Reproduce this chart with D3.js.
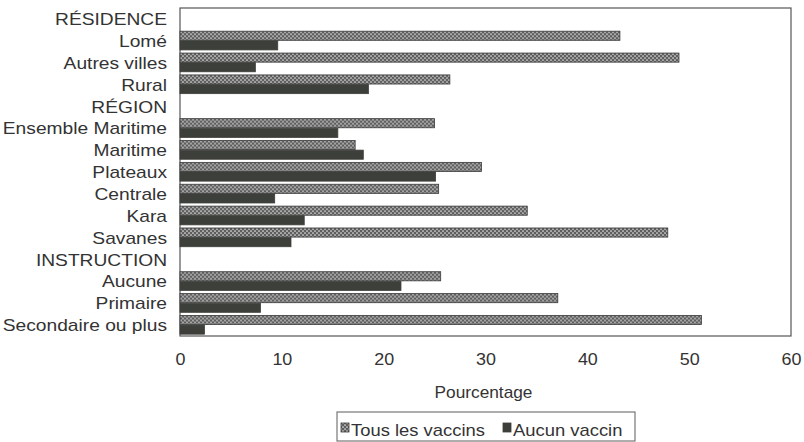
<!DOCTYPE html>
<html>
<head>
<meta charset="utf-8">
<script src="https://cdn.jsdelivr.net/npm/d3@7"></script>
<style>
  html, body { margin: 0; padding: 0; background: #ffffff; }
  svg { display: block; font-family: "Liberation Sans", Arial, Helvetica, sans-serif; }
</style>
</head>
<body>
<svg id="chart" width="804" height="442"></svg>
<script>
const categories = ["RÉSIDENCE", "Lomé", "Autres villes", "Rural", "RÉGION",
  "Ensemble Maritime", "Maritime", "Plateaux", "Centrale", "Kara", "Savanes",
  "INSTRUCTION", "Aucune", "Primaire", "Secondaire ou plus"];
const tousVaccins = [null, 43.2, 49.0, 26.5, null, 25.0, 17.2, 29.6, 25.4, 34.1, 47.9, null, 25.6, 37.1, 51.2];
const aucunVaccin = [null, 9.6, 7.4, 18.5, null, 15.5, 18.0, 25.1, 9.3, 12.2, 10.9, null, 21.7, 7.9, 2.4];
const seriesNames = ["Tous les vaccins", "Aucun vaccin"];
const xTicks = [0, 10, 20, 30, 40, 50, 60];
const xTitle = "Pourcentage";

const svg = d3.select("#chart");
const plot = { left: 180, right: 791, top: 8, bottom: 336 };
const textColor = "#333";
const fontSize = 16;

// pattern for "Tous les vaccins"
const defs = svg.append("defs");
const pat = defs.append("pattern").attr("id", "dots")
  .attr("patternUnits", "userSpaceOnUse").attr("width", 4).attr("height", 4);
pat.append("rect").attr("width", 4).attr("height", 4).attr("fill", "#5e5e5e");
pat.append("circle").attr("cx", 1).attr("cy", 1).attr("r", 0.85).attr("fill", "#e6e6e6");
pat.append("circle").attr("cx", 3).attr("cy", 3).attr("r", 0.85).attr("fill", "#e6e6e6");

const seriesStyle = [
  { fill: "url(#dots)", stroke: "#3a3a3a" },
  { fill: "#3d3f3a", stroke: "#3d3f3a" }
];

const x = d3.scaleLinear().domain([0, 60]).range([plot.left, plot.right]);
const y = d3.scaleBand().domain(categories).range([plot.top, plot.bottom])
  .paddingInner(0.12).paddingOuter(0.06);
const ySub = d3.scaleBand().domain(seriesNames).range([0, y.bandwidth()]).padding(0);

const rows = categories.map((c, i) => ({ cat: c, vals: [tousVaccins[i], aucunVaccin[i]] }));

// plot frame
svg.append("rect")
  .attr("x", plot.left).attr("y", plot.top)
  .attr("width", plot.right - plot.left).attr("height", plot.bottom - plot.top)
  .attr("fill", "#fff").attr("stroke", "#555").attr("stroke-width", 1.2);

// bars
const groups = svg.append("g").selectAll("g").data(rows).join("g")
  .attr("transform", d => `translate(0,${y(d.cat)})`);
groups.selectAll("rect")
  .data(d => d.vals.map((v, k) => ({ v, k })).filter(e => e.v !== null))
  .join("rect")
  .attr("x", x(0))
  .attr("y", e => ySub(seriesNames[e.k]))
  .attr("width", e => x(e.v) - x(0))
  .attr("height", ySub.bandwidth() - 0.5)
  .attr("fill", e => seriesStyle[e.k].fill)
  .attr("stroke", e => seriesStyle[e.k].stroke)
  .attr("stroke-width", 0.8);

// y axis labels
const yAxis = svg.append("g").attr("transform", "translate(167,1)")
  .call(d3.axisLeft(y).tickSize(0).tickPadding(0));
yAxis.select(".domain").remove();
yAxis.selectAll("text")
  .attr("font-size", fontSize).attr("font-family", "Liberation Sans, Arial, sans-serif")
  .attr("fill", textColor).attr("transform", "scale(1.2,1)");

// x axis labels
const xAxis = svg.append("g").attr("transform", `translate(0,${plot.bottom})`)
  .call(d3.axisBottom(x).tickValues(xTicks).tickSize(0).tickPadding(18).tickFormat(d3.format("d")));
xAxis.select(".domain").remove();
xAxis.selectAll("text")
  .attr("font-size", fontSize).attr("font-family", "Liberation Sans, Arial, sans-serif")
  .attr("fill", textColor).attr("transform", "scale(1.12,1)");

// x title
svg.append("text")
  .attr("transform", `translate(${x(30) - 2},398) scale(1.08,1)`)
  .attr("text-anchor", "middle").attr("font-size", fontSize).attr("fill", textColor)
  .text(xTitle);

// legend
const legend = svg.append("g");
legend.append("rect").attr("x", 337).attr("y", 412).attr("width", 298).attr("height", 29)
  .attr("fill", "#fff").attr("stroke", "#777").attr("stroke-width", 1.2);
const legX = [341, 503];
seriesNames.forEach((name, k) => {
  legend.append("rect").attr("x", legX[k]).attr("y", 423).attr("width", 8).attr("height", 9)
    .attr("fill", seriesStyle[k].fill).attr("stroke", seriesStyle[k].stroke).attr("stroke-width", 0.8);
  legend.append("text")
    .attr("transform", `translate(${legX[k] + 10},436) scale(1.15,1)`)
    .attr("font-size", fontSize).attr("fill", textColor)
    .text(name);
});
</script>
</body>
</html>
